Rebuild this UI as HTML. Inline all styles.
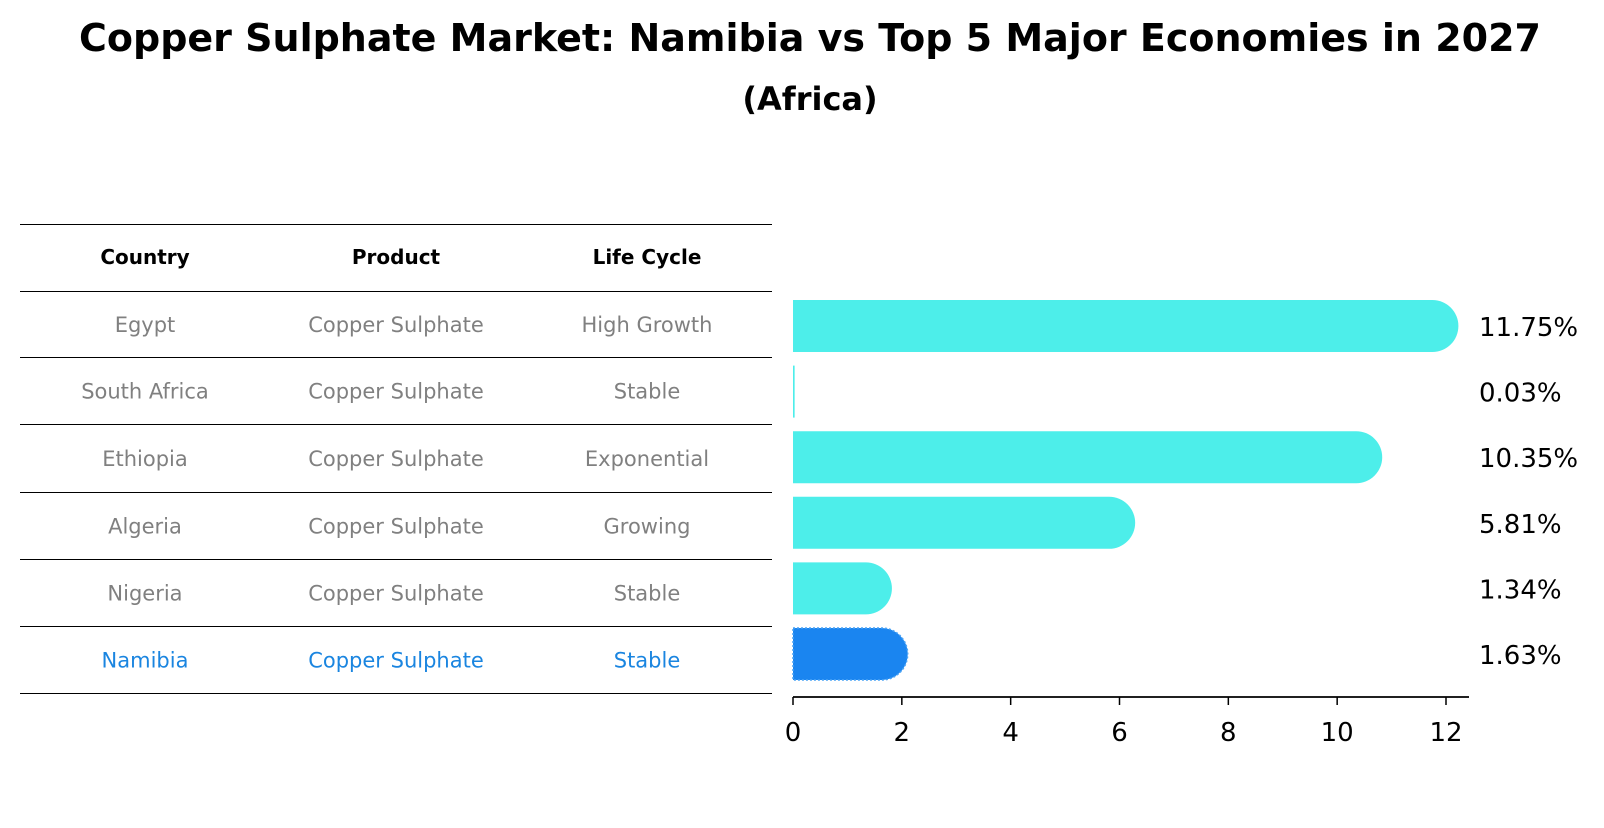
<!DOCTYPE html>
<html><head><meta charset="utf-8"><style>
body{margin:0;background:#fff;width:1604px;height:823px;overflow:hidden;font-family:"Liberation Sans","DejaVu Sans",sans-serif}
</style></head><body>
<svg width="1604" height="823" xmlns="http://www.w3.org/2000/svg" font-family="DejaVu Sans, Liberation Sans, sans-serif">
<text x="810" y="51" text-anchor="middle" font-size="38" font-weight="bold">Copper Sulphate Market: Namibia vs Top 5 Major Economies in 2027</text>
<text x="810" y="110" text-anchor="middle" font-size="32" font-weight="bold">(Africa)</text>
<g id="table"></g>
<g id="bars"></g>
</svg>
<script>
const countries=["Egypt","South Africa","Ethiopia","Algeria","Nigeria","Namibia"];
const products=["Copper Sulphate","Copper Sulphate","Copper Sulphate","Copper Sulphate","Copper Sulphate","Copper Sulphate"];
const lifecycles=["High Growth","Stable","Exponential","Growing","Stable","Stable"];
const values=[11.75,0.03,10.35,5.81,1.34,1.63];
const ticks=[0,2,4,6,8,10,12];
const NS="http://www.w3.org/2000/svg";
function mk(tag,attrs,parent,txt){const e=document.createElementNS(NS,tag);for(const k in attrs)e.setAttribute(k,attrs[k]);if(txt!==undefined)e.textContent=txt;parent.appendChild(e);return e;}
const tbl=document.getElementById('table');
const lines=[224,291,357,424,492,559,626,693];
lines.forEach(y=>{const l=mk('line',{x1:20,x2:772,y1:y+0.5,y2:y+0.5,stroke:'#000','stroke-width':1},tbl);

});
const cols=[145,396,647];
["Country","Product","Life Cycle"].forEach((h,i)=>{const t=mk('text',{x:cols[i],y:264,'text-anchor':'middle','font-size':20,'font-weight':'bold'},tbl,h);

});
countries.forEach((c,r)=>{const y=(lines[r+1]+lines[r+2])/2+8;const col=c==="Namibia"?"#1a85e0":"#808080";
[c,products[r],lifecycles[r]].forEach((v,i)=>{const t=mk('text',{x:cols[i],y:y,'text-anchor':'middle','font-size':21,fill:col},tbl,v);

});});
const g=document.getElementById('bars');
const x0=793,pxPer=(1446-793)/12;const xs=v=>x0+v*pxPer;
const bh=52;
const centers=countries.map((c,r)=>326+r*(654-326)/5);
values.forEach((v,r)=>{const yc=centers[r];const w=xs(v)-x0;
const isN=countries[r]==="Namibia";
const col=isN?"#1a85f0":"#4deeea";
const x1=xs(v);const rr=bh/2;
let d;
if(w<2){d=`M${x0},${yc-rr}h${Math.max(w,1.5)}v${bh}h${-Math.max(w,1.5)}z`;}
else{d=`M${x0},${yc-rr}H${x1}A${rr},${rr} 0 0 1 ${x1},${yc+rr}H${x0}Z`;}
const attrs={d:d,fill:col};
if(isN){attrs.stroke='#4aa3f5';attrs['stroke-width']=1.5;attrs['stroke-dasharray']='2 2';}
const p=mk('path',attrs,g);


const t=mk('text',{x:1479,y:yc+10,'font-size':26,fill:'#000'},g,values[r].toFixed(2)+'%');

});
const ax=mk('line',{x1:x0,x2:1469,y1:697,y2:697,stroke:'#000','stroke-width':1.8},g);


ticks.forEach(tv=>{const tk=mk('line',{x1:xs(tv),x2:xs(tv),y1:697,y2:705,stroke:'#000','stroke-width':1.5},g);


const tl=mk('text',{x:xs(tv),y:741,'text-anchor':'middle','font-size':26},g,String(tv));

});
</script>
</body></html>
